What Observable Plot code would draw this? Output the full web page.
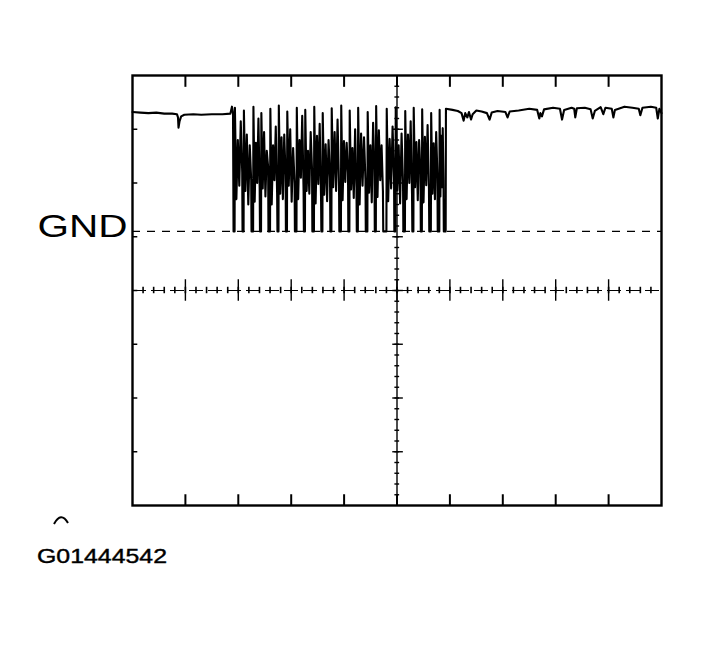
<!DOCTYPE html>
<html><head><meta charset="utf-8">
<script src="https://cdn.jsdelivr.net/npm/d3@7"></script>
<script src="https://cdn.jsdelivr.net/npm/@observablehq/plot@0.6"></script>
<style>
body{margin:0;background:#fff;}
#chart svg{display:block}
</style>
</head><body>
<div id="chart"></div>
<script>
// Oscilloscope screen: x in time divisions (0–10), y in vertical divisions (0–8)
const GND = 5.1;
const gndLabel = "GND";
const figureCode = "G01444542";

// Trace before the burst: [div, level]
const preTrace = [
  [0,7.32],[0.15,7.31],[0.3,7.30],[0.45,7.31],[0.6,7.29],[0.75,7.29],[0.84,7.28],
  [0.86,7.22],[0.87,7.03],[0.89,7.15],[0.92,7.24],[0.98,7.27],[1.15,7.28],[1.3,7.27],
  [1.5,7.28],[1.7,7.28],[1.85,7.29],[1.88,7.42],[1.90,7.30]
];

// Burst cycles: [start, low hold, peak, mid1, mid2, mid3, mid4, mid5]
const burstCycles = [
  [1.91,0.02,7.40,5.70,6.80,5.95,7.15,6.20],
  [2.08,0.02,7.35,5.85,6.90,5.60,6.70,6.05],
  [2.25,0.03,7.42,5.65,6.75,6.00,7.20,5.90],
  [2.41,0.02,7.30,5.90,6.95,5.75,6.60,6.30],
  [2.57,0.03,7.38,5.60,6.70,6.05,7.05,5.80],
  [2.74,0.02,7.44,5.80,6.85,5.70,6.90,6.15],
  [2.90,0.02,7.33,5.95,7.00,5.65,6.65,6.00],
  [3.07,0.03,7.40,5.70,6.80,6.10,7.25,5.85],
  [3.24,0.02,7.36,5.85,6.60,5.80,6.95,6.25],
  [3.40,0.03,7.42,5.62,6.88,5.98,7.10,5.75],
  [3.57,0.02,7.30,5.78,6.72,5.66,6.80,6.10],
  [3.74,0.02,7.39,5.92,6.95,5.85,7.18,5.95],
  [3.91,0.03,7.44,5.68,6.78,6.02,6.75,6.20],
  [4.08,0.02,7.35,5.88,6.65,5.72,7.00,5.90],
  [4.24,0.02,7.40,5.60,6.92,5.95,6.85,6.05],
  [4.41,0.03,7.32,5.82,6.70,5.64,7.12,6.25],
  [4.58,0.02,7.43,5.74,6.98,6.05,6.70,5.85],
  [4.74,0.06,7.38,5.66,6.82,5.90,7.05,6.10],
  [4.95,0.02,7.41,5.86,6.70,5.62,6.92,6.00],
  [5.12,0.03,7.34,5.70,6.90,6.00,7.15,5.80],
  [5.29,0.02,7.40,5.92,6.76,5.68,6.80,6.20],
  [5.45,0.02,7.37,5.64,6.86,5.96,7.08,5.90],
  [5.61,0.03,7.30,5.80,6.74,5.70,6.95,6.15],
  [5.77,0.03,7.36,5.75,6.88,5.92,7.02,6.05]
];
const burstLastLow = 5.885;
const burstEnd = 5.92;

// Trace after the burst
const postTrace = [
  [5.925,7.38],[6.05,7.36],[6.15,7.34],[6.22,7.30],[6.26,7.16],[6.29,7.30],[6.33,7.22],
  [6.36,7.32],[6.40,7.18],[6.43,7.28],[6.50,7.35],[6.60,7.33],[6.70,7.30],[6.75,7.18],
  [6.79,7.31],[6.90,7.34],[7.05,7.32],[7.09,7.22],[7.13,7.33],[7.30,7.35],[7.50,7.38],
  [7.65,7.36],[7.69,7.20],[7.71,7.30],[7.74,7.24],[7.78,7.37],[7.95,7.40],[8.08,7.38],
  [8.12,7.18],[8.16,7.36],[8.30,7.40],[8.35,7.38],[8.37,7.22],[8.40,7.39],[8.55,7.40],
  [8.66,7.37],[8.70,7.20],[8.74,7.34],[8.85,7.41],[8.90,7.28],[8.94,7.40],[9.06,7.38],
  [9.09,7.22],[9.12,7.36],[9.30,7.42],[9.45,7.40],[9.57,7.38],[9.60,7.26],[9.64,7.40],
  [9.80,7.42],[9.90,7.40],[9.93,7.20],[9.96,7.38],[10.0,7.30]
];

const majorX = [1,2,3,4,5,6,7,8,9];
const majorY = [1,2,3,4,5,6,7];
const minorX = d3.range(0.2, 10, 0.2);
const minorY = d3.range(0.2, 8, 0.2);

// assemble the trace
const trace = preTrace.map(([t,v]) => ({t, v}));
burstCycles.forEach((row, i) => {
  const [s, hold, peak, ...mids] = row;
  const next = i < burstCycles.length - 1 ? burstCycles[i+1][0] : burstLastLow;
  const a = s + hold + 0.006, b = next - 0.006;
  trace.push({t:s, v:GND}, {t:s+hold, v:GND}, {t:a, v:peak});
  mids.forEach((m, k) => trace.push({t: a + (b - a) * (k + 1) / mids.length, v: m}));
});
trace.push({t:burstLastLow, v:GND}, {t:burstEnd, v:GND});
postTrace.forEach(([t,v]) => trace.push({t, v}));

const chart = Plot.plot({
  width: 701, height: 515,
  marginLeft: 132, marginRight: 40, marginTop: 75, marginBottom: 10,
  style: {fontFamily: "'Liberation Sans', Arial, sans-serif", color: "black", background: "white"},
  x: {domain: [0, 10], axis: null},
  y: {domain: [0, 8], axis: null},
  marks: [
    // GND reference (dashed)
    Plot.ruleY([GND], {stroke: "black", strokeWidth: 1.4, strokeDasharray: "8,7"}),
    // center cross with graticule ticks
    Plot.ruleY([4], {stroke: "black", strokeWidth: 1.2, strokeDasharray: "14,5"}),
    Plot.ruleX(minorX, {x: d => d, y1: 3.94, y2: 4.06, stroke: "black", strokeWidth: 1.6}),
    Plot.ruleX(majorX, {x: d => d, y1: 3.8, y2: 4.2, stroke: "black", strokeWidth: 1.4}),
    Plot.ruleX([5], {stroke: "black", strokeWidth: 1.4}),
    Plot.ruleY(minorY, {y: d => d, x1: 4.96, x2: 5.05, stroke: "black", strokeWidth: 1.4}),
    Plot.ruleY(majorY, {y: d => d, x1: 4.92, x2: 5.12, stroke: "black", strokeWidth: 1.4}),
    // frame ticks
    Plot.ruleX(majorX, {x: d => d, y1: 8, y2: 7.78, stroke: "black", strokeWidth: 2}),
    Plot.ruleX(majorX, {x: d => d, y1: 0, y2: 0.2, stroke: "black", strokeWidth: 2}),
    Plot.ruleY(majorY, {y: d => d, x1: 0, x2: 0.1, stroke: "black", strokeWidth: 1.5}),
    // the trace
    Plot.line(trace, {x: "t", y: "v", stroke: "black", strokeWidth: 2.1}),
    Plot.frame({stroke: "black", strokeWidth: 2.4}),
    Plot.axisY([GND], {label: null, tickSize: 0, tickPadding: 5, tickFormat: () => gndLabel, fontSize: 31, dy: -4})
  ]
});

// horizontally stretched lettering as in the original artwork
chart.querySelectorAll('[aria-label="y-axis tick label"] text').forEach(t => {
  t.setAttribute("textLength", 90);
  t.setAttribute("lengthAdjust", "spacingAndGlyphs");
});
document.getElementById("chart").appendChild(chart);

// caption below the plot
const ns = "http://www.w3.org/2000/svg";
const cap = document.createElementNS(ns, "svg");
cap.setAttribute("width", 701); cap.setAttribute("height", 130);
cap.style.display = "block";
const arc = document.createElementNS(ns, "path");
arc.setAttribute("d", "M54,9 Q61,-4 68,8");
arc.setAttribute("fill", "none"); arc.setAttribute("stroke", "black"); arc.setAttribute("stroke-width", 2);
cap.appendChild(arc);
const txt = document.createElementNS(ns, "text");
txt.setAttribute("x", 37); txt.setAttribute("y", 48);
txt.setAttribute("font-family", "'Liberation Sans', Arial, sans-serif");
txt.setAttribute("font-size", 20);
txt.setAttribute("stroke", "black"); txt.setAttribute("stroke-width", 0.4);
txt.setAttribute("textLength", 130);
txt.setAttribute("lengthAdjust", "spacingAndGlyphs");
txt.textContent = figureCode;
cap.appendChild(txt);
document.getElementById("chart").appendChild(cap);
</script>
</body></html>
